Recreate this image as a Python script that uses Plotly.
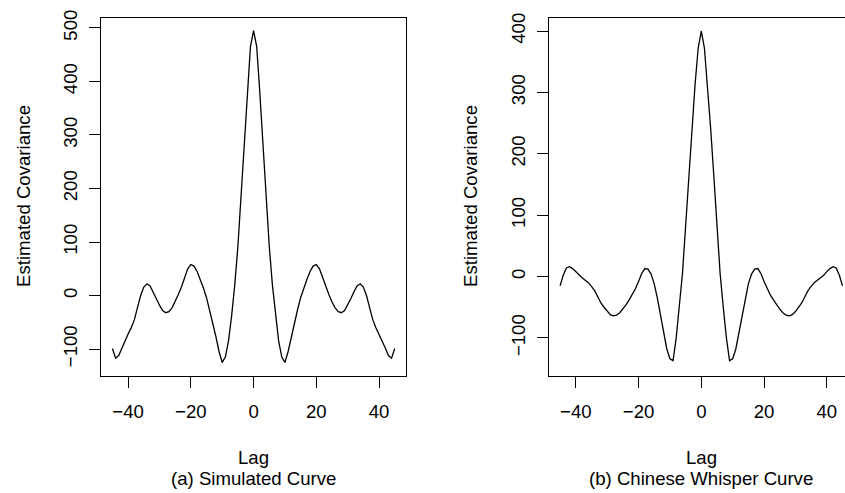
import plotly.graph_objects as go

# ---------------- data ----------------
lags_pos = list(range(0, 46))

sim_pos = [495, 465, 378, 280, 182, 92, 20, -38, -85, -115,
           -125, -105, -77, -51, -27, -4, 14, 30, 45, 55,
           58, 50, 34, 16, 2, -12, -23, -30, -32, -28,
           -18, -6, 7, 18, 22, 16, 0, -22, -45, -60,
           -72, -84, -98, -112, -117, -99]

cw_pos = [400, 372, 312, 240, 163, 82, 5, -50, -100, -137,
          -134, -118, -90, -62, -35, -12, 4, 12, 13, 5,
          -8, -20, -30, -38, -46, -53, -59, -63, -64, -62,
          -57, -50, -43, -33, -23, -16, -10, -6, -2, 2,
          8, 13, 16, 14, 2, -15]

lags = [-l for l in lags_pos[:0:-1]] + lags_pos
sim = sim_pos[:0:-1] + sim_pos
cw = cw_pos[:0:-1] + cw_pos

x_ticks = [-40, -20, 0, 20, 40]
y_ticks_a = [-100, 0, 100, 200, 300, 400, 500]
y_ticks_b = [-100, 0, 100, 200, 300, 400]
y_title = "Estimated Covariance"
x_title = "Lag"
sub_a = "(a) Simulated Curve"
sub_b = "(b) Chinese Whisper Curve"

# ---------------- figure ----------------
W, H = 845, 493
FONT = "Liberation Sans, Arial, Helvetica, sans-serif"
FS = 18.6

def px(x):
    return x / W

def py(y):
    return 1 - y / H

def lbl(v):
    return ("\u2212" + str(-v)) if v < 0 else str(v)

fig = go.Figure()
fig.add_trace(go.Scatter(x=lags, y=sim, mode="lines",
                         line=dict(color="black", width=1.3),
                         xaxis="x", yaxis="y", showlegend=False))
fig.add_trace(go.Scatter(x=lags, y=cw, mode="lines",
                         line=dict(color="black", width=1.3),
                         xaxis="x2", yaxis="y2", showlegend=False))

axis_common = dict(showgrid=False, zeroline=False, showline=True,
                   linecolor="black", linewidth=1, ticks="outside",
                   ticklen=11, tickwidth=1, tickcolor="black",
                   tickfont=dict(family=FONT, size=FS, color="black"))

ydom = [py(374), py(10)]

fig.update_layout(
    width=W, height=H,
    margin=dict(l=0, r=0, t=0, b=0),
    paper_bgcolor="white", plot_bgcolor="white",
    xaxis=dict(domain=[px(101), px(406)], range=[-48.65, 48.6],
               tickvals=x_ticks, ticktext=[lbl(v) for v in x_ticks],
               mirror=True, anchor="y", ticklabelstandoff=8, **axis_common),
    yaxis=dict(domain=ydom, range=[-150.2, 518.9], tickvals=y_ticks_a,
               ticktext=[lbl(v) for v in y_ticks_a],
               tickangle=-90, mirror=True, anchor="x", ticklabelstandoff=5,
               **axis_common),
    xaxis2=dict(domain=[px(549), 1.0], range=[-48.54, 45.8],
                tickvals=x_ticks, ticktext=[lbl(v) for v in x_ticks],
                mirror=True, anchor="y2", ticklabelstandoff=8, **axis_common),
    yaxis2=dict(domain=ydom, range=[-161.9, 421.5], tickvals=y_ticks_b,
                ticktext=[lbl(v) for v in y_ticks_b],
                tickangle=-90, mirror=False, anchor="x2", ticklabelstandoff=5,
                **axis_common),
)

ann_font = dict(family=FONT, size=FS, color="black")
anns = [
    dict(text=y_title, x=px(24), y=py(191), textangle=-90),
    dict(text=y_title, x=px(471), y=py(191), textangle=-90),
    dict(text=x_title, x=px(253.7), y=py(456.5)),
    dict(text=x_title, x=px(701.3), y=py(456.5)),
    dict(text=sub_a, x=px(253.7), y=py(478)),
    dict(text=sub_b, x=px(701.3), y=py(478)),
]
for a in anns:
    fig.add_annotation(xref="paper", yref="paper", showarrow=False,
                       xanchor="center", yanchor="middle", font=ann_font, **a)

fig.write_html("out.html")
